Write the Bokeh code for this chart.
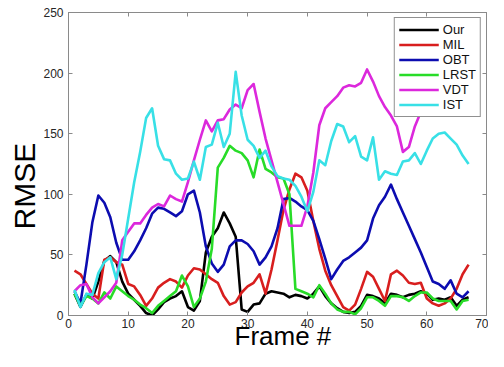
from bokeh.plotting import figure
from bokeh.models import (LinearAxis, FixedTicker, Legend, LegendItem, Title, Range1d)
from bokeh.embed import file_html
from bokeh.resources import INLINE

frames = list(range(1, 68))

our = [18, 7, 17, 14, 28, 45, 49, 44, 28, 18,
       13, 8, 2, 0, 5, 11, 14, 16, 20, 7,
       4, 12, 52, 65, 72, 85, 76, 65, 5, 3,
       9, 10, 18, 20, 19, 18, 15, 17, 16, 14,
       18, 24, 16, 10, 6, 3, 2, 3, 8, 17,
       16, 14, 10, 18, 17, 15, 17, 18, 20, 18,
       13, 14, 13, 15, 8, 13, 15]

mil = [37, 34, 26, 18, 14, 46, 48, 44, 42, 26,
       24, 17, 8, 14, 23, 27, 30, 28, 23, 33,
       39, 38, 34, 30, 27, 16, 9, 11, 19, 24,
       27, 34, 18, 38, 62, 87, 104, 117, 114, 103,
       78, 55, 37, 25, 16, 7, 4, 9, 22, 36,
       32, 22, 12, 34, 37, 33, 27, 26, 27, 14,
       10, 8, 10, 14, 22, 34, 42]

obt = [20, 10, 42, 77, 99, 93, 81, 60, 46, 46,
       53, 62, 72, 84, 89, 88, 85, 82, 86, 100,
       103, 85, 57, 43, 36, 42, 57, 62, 62, 59,
       53, 42, 48, 57, 72, 96, 97, 94, 90, 87,
       78, 63, 47, 30, 38, 45, 48, 52, 56, 62,
       80, 91, 98, 108, 96, 85, 74, 63, 52, 40,
       28, 26, 22, 29, 18, 15, 20]

lrst = [18, 8, 16, 14, 10, 19, 14, 24, 20, 16,
        13, 9, 6, 2, 8, 12, 16, 20, 33, 24,
        7, 14, 28, 55, 122, 130, 140, 136, 134, 128,
        114, 137, 121, 118, 114, 113, 100, 22, 20, 18,
        15, 25, 18, 10, 5, 3, 3, 1, 6, 15,
        15, 12, 8, 16, 16, 15, 12, 16, 19, 19,
        14, 12, 12, 12, 5, 12, 13]

vdt = [20, 25, 26, 15, 10, 15, 20, 27, 62, 69,
       76, 76, 83, 89, 92, 90, 99, 96, 94, 110,
       128, 145, 161, 152, 161, 162, 170, 174, 171, 186,
       191, 168, 146, 128, 110, 92, 74, 74, 74, 90,
       118, 157, 171, 176, 181, 188, 190, 189, 192, 203,
       193, 181, 172, 165, 156, 135, 139, 156, 168, 180,
       185, 190, 192, 195, 193, 195, 197]

ist = [21, 7, 18, 17, 35, 44, 48, 30, 50, 80,
       110, 135, 163, 171, 140, 129, 128, 117, 112, 113,
       127, 112, 139, 141, 159, 139, 150, 201, 165, 145,
       140, 130, 136, 123, 115, 113, 112, 107, 98, 86,
       102, 128, 124, 144, 158, 156, 143, 148, 131, 128,
       147, 112, 119, 117, 116, 127, 128, 134, 125, 136,
       146, 150, 151, 146, 141, 132, 125]

names = ["Our", "MIL", "OBT", "LRST", "VDT", "IST"]
series = [our, mil, obt, lrst, vdt, ist]
colors = ["#000000", "#d81e1e", "#0c0cb0", "#28dc28", "#dc28dc", "#38e0e6"]

x_ticks = [0, 10, 20, 30, 40, 50, 60, 70]
y_ticks = [0, 50, 100, 150, 200, 250]

FONT = "Liberation Sans"
AX_COLOR = "#8a8a8a"

p = figure(width=488, height=351, output_backend="svg", toolbar_location=None,
           x_range=Range1d(0, 70), y_range=Range1d(0, 250),
           min_border_left=68, min_border_right=2, min_border_top=12,
           min_border_bottom=36)
p.xgrid.visible = False
p.ygrid.visible = False
p.outline_line_color = AX_COLOR
p.background_fill_color = "white"
p.border_fill_color = "white"


def style_axis(ax, show_labels=True):
    ax.axis_line_color = AX_COLOR
    ax.major_tick_line_color = AX_COLOR
    ax.minor_tick_line_color = None
    ax.major_tick_in = 4
    ax.major_tick_out = 0
    ax.major_label_text_font = FONT
    if show_labels:
        ax.major_label_text_font_size = "12px"
        ax.major_label_text_color = "#262626"
    else:
        ax.major_label_text_font_size = "0px"
        ax.major_label_text_color = None
        ax.major_label_standoff = 0


p.xaxis.ticker = FixedTicker(ticks=x_ticks)
p.yaxis.ticker = FixedTicker(ticks=y_ticks)
style_axis(p.xaxis[0])
style_axis(p.yaxis[0])
p.xaxis[0].major_label_standoff = 3
p.yaxis[0].major_label_standoff = 5

top_ax = LinearAxis(ticker=FixedTicker(ticks=x_ticks))
style_axis(top_ax, show_labels=False)
p.add_layout(top_ax, "above")
right_ax = LinearAxis(ticker=FixedTicker(ticks=y_ticks))
style_axis(right_ax, show_labels=False)
p.add_layout(right_ax, "right")

renderers = []
for name, vals, col in zip(names, series, colors):
    r = p.line(frames, vals, line_color=col, line_width=2.6, line_join="round")
    renderers.append(r)

legend = Legend(items=[LegendItem(label=n, renderers=[r]) for n, r in zip(names, renderers)],
                location="top_right")
legend.border_line_color = "#222222"
legend.border_line_width = 1
legend.background_fill_color = "white"
legend.background_fill_alpha = 1.0
legend.label_text_font = FONT
legend.label_text_font_size = "13px"
legend.label_text_color = "#111111"
legend.glyph_width = 40
legend.glyph_height = 15
legend.label_height = 15
legend.label_standoff = 4
legend.spacing = 0
legend.padding = 4
legend.margin = 5
p.add_layout(legend)

# axis titles as side-panel titles
ylab = Title(text="RMSE", align="left", offset=86, vertical_align="bottom",
             text_font=FONT, text_font_size="30px", text_font_style="normal",
             text_color="#000000", standoff=0)
p.add_layout(ylab, "left")
xlab = Title(text="Frame #", align="left", offset=166, vertical_align="top",
             text_font=FONT, text_font_size="26px", text_font_style="normal",
             text_color="#000000", standoff=-19)
p.add_layout(xlab, "below")

open("out.html", "w").write(file_html(p, INLINE))
